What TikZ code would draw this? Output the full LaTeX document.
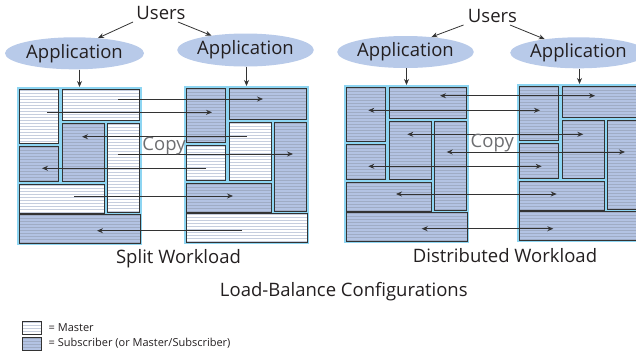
\documentclass[tikz,border=0pt]{standalone}
\usepackage{fontspec}
\setmainfont{Open Sans}
\usetikzlibrary{arrows.meta,shapes.geometric}

\definecolor{framecyan}{HTML}{8DD5F2}
\definecolor{subfill}{HTML}{B3C3E3}
\definecolor{substripe}{HTML}{9FACC5}
\definecolor{masterstripe}{HTML}{C6CEDE}
\definecolor{appfill}{HTML}{B8CAE9}
\definecolor{ink}{HTML}{231F20}
\definecolor{edge}{HTML}{333333}
\definecolor{copygray}{HTML}{6D6E71}

\newcommand\bigtext{\fontsize{18.5}{21}\selectfont}
\newcommand\smalltext{\fontsize{11}{13}\selectfont}

\tikzset{
  base/.style={draw=edge, line width=0.8pt, inner sep=0pt, outer sep=0pt, anchor=north west},
  stripes/.style={path picture={
      \foreach \k in {1,...,60}{
        \draw[#1, line width=0.55pt]
          ([yshift={(-3*\k+1.5)*1pt}]path picture bounding box.north west) --
          ([yshift={(-3*\k+1.5)*1pt}]path picture bounding box.north east);}}},
  master/.style={base, fill=white, stripes=masterstripe},
  subscr/.style={base, fill=subfill, stripes=substripe},
  dbframe/.style={fill=framecyan, inner sep=0pt, outer sep=0pt, anchor=north west,
    minimum width=125pt, minimum height=158pt},
  app/.style={ellipse, fill=appfill, inner sep=0pt, text=ink, font=\bigtext},
  label/.style={text=ink, font=\bigtext, inner sep=0pt},
  copylabel/.style={text=copygray, font=\bigtext, inner sep=0pt},
  arr/.style={draw=edge, line width=0.8pt, -{Stealth[length=6pt,width=5pt]}},
  darr/.style={draw=edge, line width=0.8pt, {Stealth[length=6pt,width=5pt]}-{Stealth[length=6pt,width=5pt]}},
}

% One database: cyan frame holding seven tables; #3..#9 give each table's role
\newcommand\dbunit[9]{%
  \begin{scope}[shift={#2}]
    \node[dbframe] (#1) at (0,0) {};
    \node[#3, minimum width=39pt, minimum height=54pt] (#1A) at (2,2) {};
    \node[#4, minimum width=77pt, minimum height=31pt] (#1B) at (45,2) {};
    \node[#5, minimum width=42pt, minimum height=58pt] (#1C) at (45,36) {};
    \node[#6, minimum width=32pt, minimum height=89pt] (#1D) at (90,36) {};
    \node[#7, minimum width=39pt, minimum height=35pt] (#1E) at (2,59) {};
    \node[#8, minimum width=85pt, minimum height=29pt] (#1F) at (2,97) {};
    \node[#9, minimum width=121pt, minimum height=29pt] (#1G) at (2,127) {};
  \end{scope}}

\begin{document}
\begin{tikzpicture}[x=1pt, y=-1pt]
  \useasboundingbox (0,0) rectangle (636,357);
  \clip (0,0) rectangle (636,357);

  % users and applications
  \node[label] (u1) at (161,13) {Users};
  \node[label] (u2) at (492.5,16) {Users};
  \node[app, minimum width=139pt, minimum height=32pt] (app1) at (74.5,53.3) {Application};
  \node[app, minimum width=136pt, minimum height=33pt] (app2) at (245.5,50) {Application};
  \node[app, minimum width=134pt, minimum height=32pt] (app3) at (405.5,52) {Application};
  \node[app, minimum width=134pt, minimum height=31pt] (app4) at (578.5,52.8) {Application};

  % databases: split workload (left pair), distributed workload (right pair)
  \dbunit{dbA}{(17,87)}{master}{master}{subscr}{master}{subscr}{master}{subscr}
  \dbunit{dbB}{(184,86)}{subscr}{subscr}{master}{subscr}{master}{subscr}{master}
  \dbunit{dbC}{(344,85)}{subscr}{subscr}{subscr}{subscr}{subscr}{subscr}{subscr}
  \dbunit{dbD}{(517,84)}{subscr}{subscr}{subscr}{subscr}{subscr}{subscr}{subscr}

  % users to applications
  \draw[arr] ([xshift=-28pt,yshift=-9pt]u1.center) -- (app1.33);
  \draw[arr] ([xshift=17pt,yshift=-9pt]u1.center) -- (app2.157);
  \draw[arr] ([xshift=-29pt,yshift=-9pt]u2.center) -- (app3.30);
  \draw[arr] ([xshift=17.5pt,yshift=-9pt]u2.center) -- (app4.158);

  % applications to databases
  \foreach \a/\d in {app1/dbA, app2/dbB, app3/dbC, app4/dbD}
    \draw[arr] (\a.south -| \d.north) -- (\d.north);

  % replication end points
  \coordinate (s1) at (118,99);    \coordinate (t1) at (263,99);
  \coordinate (s2) at (47,112.3);  \coordinate (t2) at (212,112.3);
  \coordinate (s3) at (247,136.7); \coordinate (t3) at (82,136.7);
  \coordinate (s4) at (118,154);   \coordinate (t4) at (293,154);
  \coordinate (s5) at (206,168.3); \coordinate (t5) at (42,168.3);
  \coordinate (s6) at (74,196);    \coordinate (t6) at (233,196);
  \coordinate (s7) at (242,230.7); \coordinate (t7) at (97,230.7);

  \coordinate (p1) at (440,95.7);   \coordinate (q1) at (595,95.7);
  \coordinate (p2) at (368.3,110.3);\coordinate (q2) at (540,110.3);
  \coordinate (p3) at (407.3,134.3);\coordinate (q3) at (583.3,134.3);
  \coordinate (p4) at (446.7,152);  \coordinate (q4) at (625,152);
  \coordinate (p5) at (368.3,166.3);\coordinate (q5) at (541.7,166.3);
  \coordinate (p6) at (396,194);    \coordinate (q6) at (556.7,194);
  \coordinate (p7) at (421.7,228.7);\coordinate (q7) at (553.3,228.7);

  \foreach \i in {1,...,7} {
    \draw[arr] (s\i) -- (t\i);
    \draw[darr] (p\i) -- (q\i);
  }

  \node[copylabel] (copy1) at (164,145.7) {Copy};
  \node[copylabel] (copy2) at (492.3,142.7) {Copy};

  % captions
  \node[label] (cap1) at (178.5,259) {Split Workload};
  \node[label] (cap2) at (505,256) {Distributed Workload};
  \node[label] (cap3) at (343.8,292) {Load-Balance Configurations};

  % legend
  \node[master, minimum width=19pt, minimum height=13pt] (legm) at (22.5,321) {};
  \node[subscr, minimum width=19pt, minimum height=13pt] (legs) at (22.5,337) {};
  \node[text=ink, font=\smalltext, inner sep=0pt, anchor=west] (legmt) at ([xshift=7pt]legm.east) {= Master};
  \node[text=ink, font=\smalltext, inner sep=0pt, anchor=west] (legst) at ([xshift=7pt]legs.east) {= Subscriber (or Master/Subscriber)};
\end{tikzpicture}
\end{document}
